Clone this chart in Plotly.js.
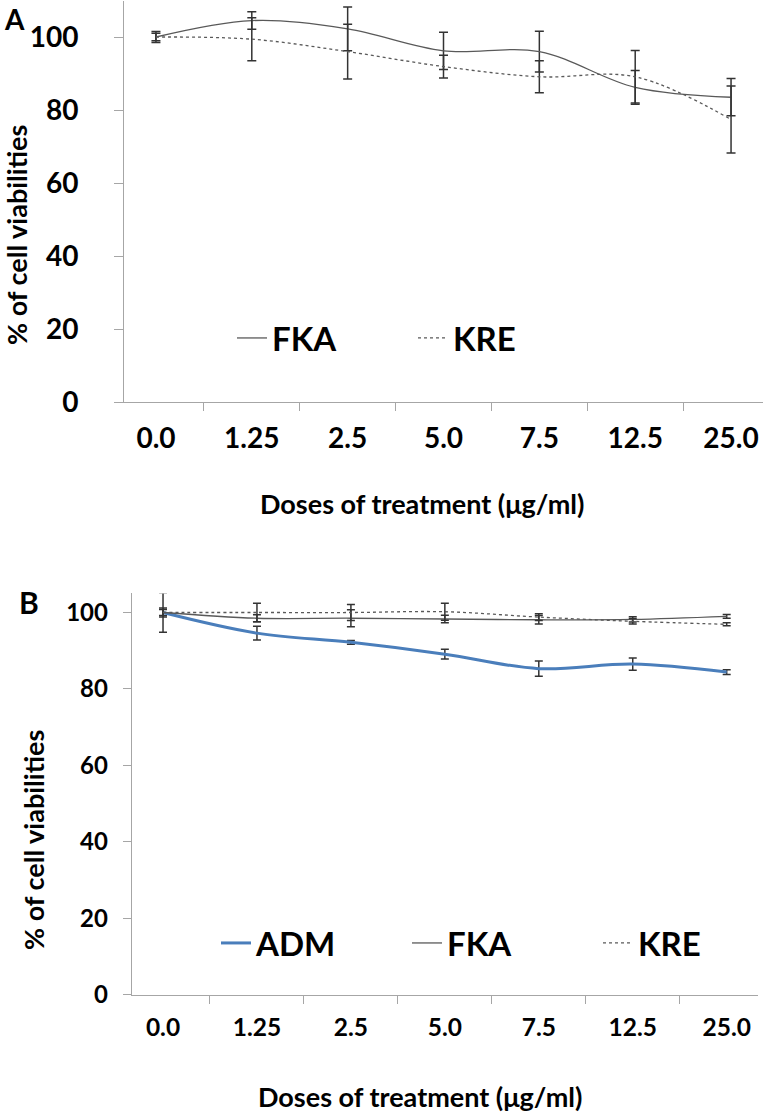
<!DOCTYPE html>
<html>
<head>
<meta charset="utf-8">
<script src="https://cdn.plot.ly/plotly-3.0.1.min.js"></script>
<style>html,body{margin:0;padding:0;background:#fff;}#chart{width:766px;height:1116px;}</style>
</head>
<body>
<div id="chart"></div>
<script>
// ---- data ----
var doses = ['0.0', '1.25', '2.5', '5.0', '7.5', '12.5', '25.0'];

// Panel A
var fkaA = [100, 104.5, 102.2, 96.2, 96.0, 86.2, 83.5];
var fkaAErr = [1.5, 2.4, 6.0, 5.1, 5.6, 4.6, 5.1];
var kreA = [100, 99.4, 96.0, 91.9, 89.1, 89.1, 77.4];
var kreAErr = [1.0, 5.9, 7.5, 3.1, 4.4, 7.2, 9.2];

// Panel B
var admB = [100, 94.6, 92.2, 89.1, 85.3, 86.5, 84.4];
var admBErr = [0.8, 1.8, 0.5, 1.3, 2.0, 1.6, 0.6];
var fkaB = [100, 98.5, 98.5, 98.3, 98.1, 98.2, 99.0];
var fkaBErr = [5.2, 0.9, 2.2, 1.0, 1.1, 0.7, 0.5];
var kreB = [100, 100, 100, 100.2, 98.8, 97.7, 96.9];
var kreBErr = [1.2, 2.4, 2.1, 2.2, 0.9, 0.7, 0.4];

var yTicksA = [0, 20, 40, 60, 80, 100];
var yTicksB = [0, 20, 40, 60, 80, 100];

var xTitle = 'Doses of treatment (μg/ml)';
var yTitle = '% of cell viabilities';

// ---- styling ----
var FONT = 'Lato, "Open Sans", sans-serif';
var gray = '#595959';
var errColor = '#333333';
var axisColor = '#a6a6a6';

function tr(name, y, err, xa, ya, leg, color, width, dash, capw) {
  return {
    type: 'scatter', mode: 'lines', name: name,
    x: doses, y: y, xaxis: xa, yaxis: ya, legend: leg,
    line: {color: color, width: width, dash: dash, shape: 'spline', smoothing: 1},
    error_y: {type: 'data', array: err, visible: true, color: errColor, thickness: 1.5, width: capw},
    hoverinfo: 'skip'
  };
}

var data = [
  tr('FKA', fkaA, fkaAErr, 'x', 'y', 'legend', gray, 1.3, 'solid', 4.5),
  tr('KRE', kreA, kreAErr, 'x', 'y', 'legend', gray, 1.3, '3px,3px', 4.5),
  tr('ADM', admB, admBErr, 'x2', 'y2', 'legend2', '#4a7ebb', 3, 'solid', 4),
  tr('FKA', fkaB, fkaBErr, 'x2', 'y2', 'legend2', gray, 1.3, 'solid', 4),
  tr('KRE', kreB, kreBErr, 'x2', 'y2', 'legend2', gray, 1.3, '3px,3px', 4)
];

var W = 766, H = 1116;
function px(v) { return v / W; }
function py(v) { return 1 - v / H; }

function bold(size) { return {family: FONT, size: size, color: '#000', weight: 'bold'}; }

var xCommon = {
  type: 'category', showline: true, linecolor: axisColor, linewidth: 1,
  ticks: 'outside', tickson: 'boundaries', ticklen: 8, tickcolor: axisColor,
  showgrid: false, zeroline: false, fixedrange: true, automargin: false
};
var yCommon = {
  showline: true, linecolor: axisColor, linewidth: 1,
  ticks: 'outside', ticklen: 9, tickcolor: axisColor,
  showgrid: false, zeroline: false, fixedrange: true, automargin: false
};

function label(text, x, y, size, angle) {
  return {text: text, x: px(x), y: py(y), xref: 'paper', yref: 'paper',
          xanchor: 'center', yanchor: 'middle', textangle: angle || 0,
          showarrow: false, font: bold(size)};
}

var layout = {
  width: W, height: H,
  margin: {l: 0, r: 0, t: 0, b: 0, autoexpand: false},
  paper_bgcolor: '#fff', plot_bgcolor: '#fff',
  font: {family: FONT, color: '#000'},
  xaxis: Object.assign({}, xCommon, {
    domain: [px(124), px(763)], anchor: 'y',
    tickfont: bold(28), ticklabelstandoff: 11
  }),
  yaxis: Object.assign({}, yCommon, {
    domain: [py(402), py(0.5)], anchor: 'x', range: [0, 110], tickvals: yTicksA,
    tickfont: bold(28), ticklabelstandoff: 30
  }),
  xaxis2: Object.assign({}, xCommon, {
    domain: [px(131.7), px(758)], anchor: 'y2',
    tickfont: bold(24.5), ticklabelstandoff: 11
  }),
  yaxis2: Object.assign({}, yCommon, {
    domain: [py(994.5), py(593.4)], anchor: 'x2', range: [0, 105], tickvals: yTicksB,
    ticklen: 8, tickfont: bold(24), ticklabelstandoff: 10
  }),
  legend: {
    orientation: 'h', x: px(232), y: py(338), xanchor: 'left', yanchor: 'middle',
    bgcolor: 'rgba(0,0,0,0)', font: bold(33),
    entrywidth: 136, entrywidthmode: 'pixels', itemclick: false, itemdoubleclick: false
  },
  legend2: {
    orientation: 'h', x: px(216), y: py(943), xanchor: 'left', yanchor: 'middle',
    bgcolor: 'rgba(0,0,0,0)', font: bold(33),
    entrywidth: 146, entrywidthmode: 'pixels', itemclick: false, itemdoubleclick: false
  },
  annotations: [
    label('A', 14, 19, 28),
    label('B', 29, 602, 30),
    label(yTitle, 17, 235, 27, -90),
    label(yTitle, 33, 840, 27, -90),
    label(xTitle, 422, 503, 27),
    label(xTitle, 420, 1096, 27)
  ],
  showlegend: true
};

Plotly.newPlot('chart', data, layout, {displayModeBar: false, staticPlot: true});
</script>
</body>
</html>
